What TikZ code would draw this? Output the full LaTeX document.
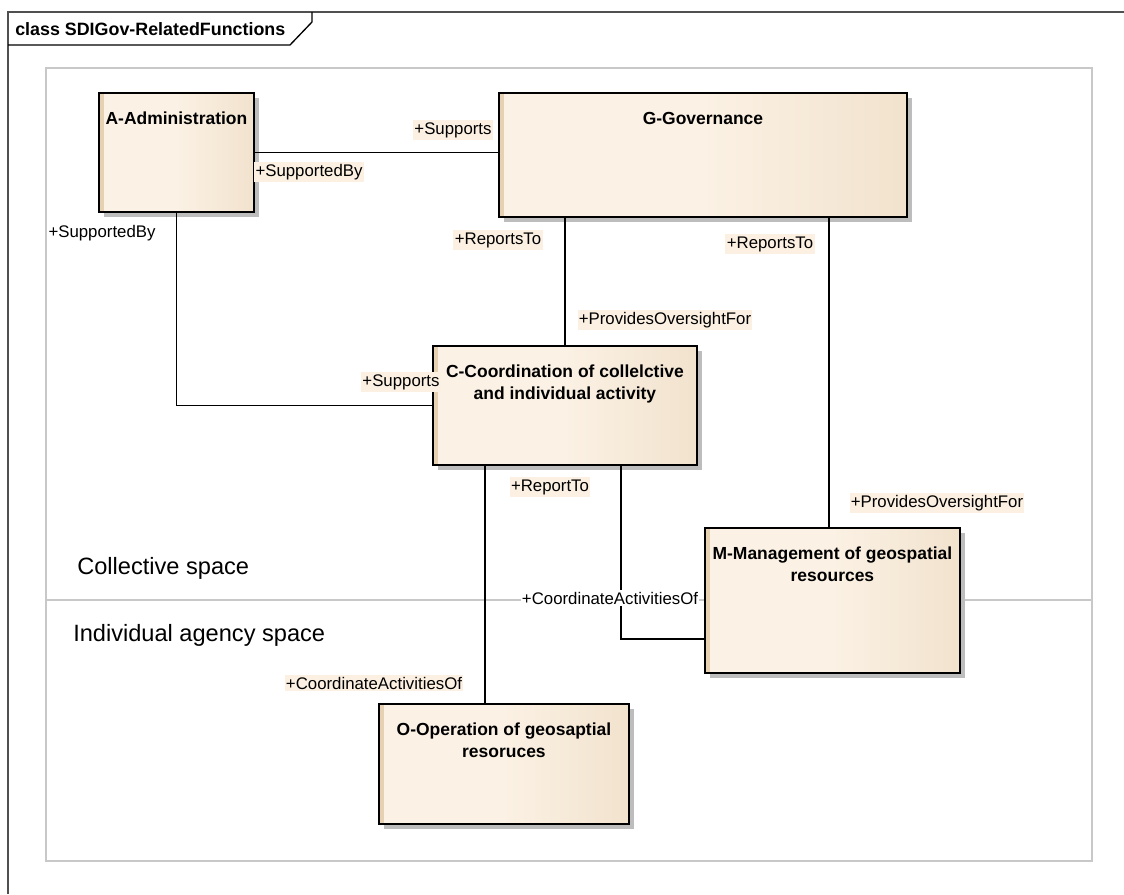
\documentclass[tikz,border=0pt]{standalone}
\usepackage{fontspec}
\setmainfont{Liberation Sans}
\usetikzlibrary{shadows,calc}

\definecolor{boxlight}{HTML}{FBF1E4}
\definecolor{boxdark}{HTML}{E8D4B7}
\definecolor{boxstrip}{HTML}{E6D1B3}
\definecolor{shadowgray}{HTML}{BDBDBD}
\definecolor{panelgray}{HTML}{C8C8C8}
\definecolor{framegray}{HTML}{505050}
\definecolor{rolebg}{HTML}{FBF0E2}

\pgfdeclarehorizontalshading{classshade}{100bp}{%
  color(0bp)=(boxlight); color(50bp)=(boxlight); color(100bp)=(boxdark)}

\tikzset{
  classbox/.style={
    draw=black, line width=1.4pt, inner sep=0pt, anchor=north west,
    shading=classshade,
    drop shadow={shadow xshift=4pt, shadow yshift=-4pt, fill=shadowgray, opacity=1},
    path picture={\fill[boxstrip] (path picture bounding box.north west)
      rectangle ([xshift=4pt]path picture bounding box.south west);}},
  classtitle/.style={font=\fontsize{13.1}{16.5}\selectfont\bfseries,
    align=center, anchor=north, inner sep=0pt},
  assoc/.style={draw=black, line width=1.1pt},
  role/.style={font=\fontsize{12.6}{14}\selectfont, fill=rolebg,
    inner xsep=1pt, inner ysep=1.5pt},
  rolewhite/.style={role, fill=white},
  spacelabel/.style={font=\fontsize{17.7}{20}\selectfont, anchor=west, inner sep=0pt}
}

\begin{document}
\begin{tikzpicture}[x=0.75pt, y=-0.75pt]
\useasboundingbox (0,0) rectangle (1124,894);
\fill[white] (0,0) rectangle (1124,894);

% diagram frame with its name tab
\draw[framegray, line width=1pt] (8,894) -- (8,12) -- (1124,12);
\draw[black, line width=1pt] (8,45) -- (290,45) -- (312,22) -- (312,12);
\node[font=\fontsize{13.4}{16}\selectfont\bfseries, anchor=west, inner sep=0pt]
  (frametitle) at (15,29) {class SDIGov-RelatedFunctions};

% the two spaces
\draw[panelgray, line width=1.2pt] (46,68) rectangle (1092,861);
\draw[panelgray, line width=1.2pt] (46,600) -- (1092,600);
\node[spacelabel] (collective) at (77,568) {Collective space};
\node[spacelabel] (individual) at (73,635) {Individual agency space};

% classes
\node[classbox, minimum width=116.25pt, minimum height=89.25pt] (A) at (98,92) {};
\node[classbox, minimum width=306pt, minimum height=93pt] (G) at (498,92) {};
\node[classbox, minimum width=198pt, minimum height=89.25pt] (C) at (432,345) {};
\node[classbox, minimum width=191.25pt, minimum height=108.75pt] (M) at (704,527) {};
\node[classbox, minimum width=187.5pt, minimum height=90pt] (O) at (378,703) {};

\node[classtitle] (Atitle) at ([yshift=-15pt]A.north) {A-Administration};
\node[classtitle] (Gtitle) at ([yshift=-15pt]G.north) {G-Governance};
\node[classtitle] (Ctitle) at ([yshift=-15pt]C.north) {C-Coordination of collelctive\\and individual activity};
\node[classtitle] (Mtitle) at ([yshift=-15pt]M.north) {M-Management of geospatial\\resources};
\node[classtitle] (Otitle) at ([yshift=-15pt]O.north) {O-Operation of geosaptial\\resoruces};

% connector end points
\coordinate (GMbot) at ([xshift=-2.6pt]M.north);
\coordinate (COtop) at ([xshift=-14.25pt]O.north);
\coordinate (CMbot) at ([xshift=42pt]C.south);
\coordinate (CMend) at ([yshift=-28.9pt]M.west);

% associations
\draw[assoc] (A.east) -- (A.east -| G.west);
\draw[assoc] (A.south) -- (A.south |- C.west) -- (C.west);
\draw[assoc] (C.north) -- (C.north |- G.south);
\draw[assoc] (GMbot) -- (GMbot |- G.south);
\draw[assoc] (COtop) -- (COtop |- C.south);
\draw[assoc] (CMbot) -- (CMbot |- CMend) -- (CMend);

% role names
\node[role] (r1) at (453,130) {+Supports};
\node[role] (r2) at (309,172) {+SupportedBy};
\node[rolewhite] (r3) at (102,233) {+SupportedBy};
\node[role] (r4) at (401,382) {+Supports};
\node[role] (r5) at (498,240) {+ReportsTo};
\node[role] (r6) at (665,320) {+ProvidesOversightFor};
\node[role] (r7) at (770,244) {+ReportsTo};
\node[role] (r8) at (937,503) {+ProvidesOversightFor};
\node[role] (r9) at (550,487) {+ReportTo};
\node[role] (r10) at (374,683) {+CoordinateActivitiesOf};
\node[rolewhite] (r11) at (610,598) {+CoordinateActivitiesOf};
\end{tikzpicture}
\end{document}
